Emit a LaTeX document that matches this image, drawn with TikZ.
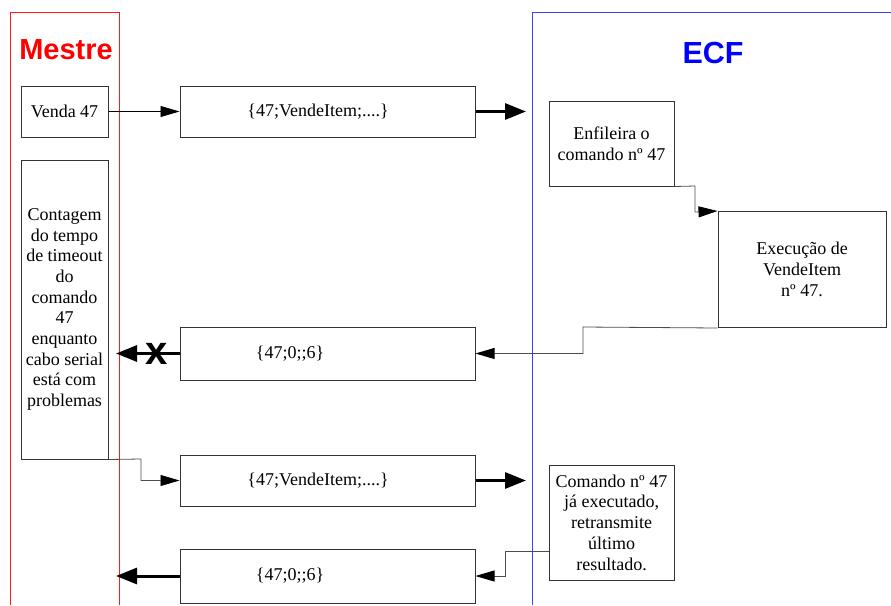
\documentclass[tikz,border=0pt]{standalone}
\usepackage{fontspec}
\setmainfont{Liberation Serif}
\newfontfamily\headfont{Liberation Sans}
\usetikzlibrary{arrows.meta}
\begin{document}
\begin{tikzpicture}[x=1pt,y=-1pt,
  box/.style={draw=black!80,line width=1pt,rectangle,inner sep=0pt,align=center,
    font=\fontsize{18}{20.7}\selectfont},
  thin/.style={line width=0.8pt,-{Triangle[length=19pt,width=11pt]}},
  gthin/.style={draw=black!70,line width=0.8pt,-{Triangle[length=19pt,width=11pt,color=black]}},
  thick/.style={line width=3pt,-{Triangle[length=21pt,width=16pt]}},
  head/.style={font=\headfont\bfseries\fontsize{29}{30}\selectfont}]
\useasboundingbox (0,0) rectangle (891,605);
% lanes
\draw[red!90,line width=0.8pt] (10,605) -- (10,12) -- (119,12) -- (119,605);
\draw[blue!75,line width=0.8pt] (532,605) -- (532,12) -- (891,12);
\node[head,text=red] (mestre) at (66,50) {Mestre};
\node[head,text=blue,font=\headfont\bfseries\fontsize{30.5}{31}\selectfont] (ecf) at (713,53) {ECF};
% boxes
\node[box,minimum width=87pt,minimum height=51pt] (venda) at (64.5,111.5) {Venda 47};
\node[box,minimum width=295pt,minimum height=51pt] (msg1) at (327.5,111.5) {};
\node[font=\fontsize{18}{20.7}\selectfont] (msg1t) at (318,111.5) {\{47;VendeItem;....\}};
\node[box,minimum width=125pt,minimum height=85pt] (enf) at (611.5,143.5) {Enfileira o\\comando nº 47};
\node[box,minimum width=168pt,minimum height=116pt] (exec) at (802,269.5) {Execução de\\VendeItem\\nº 47.};
\node[box,minimum width=87pt,minimum height=299pt] (cont) at (64.5,309.5)
  {Contagem\\do tempo\\de timeout\\do\\comando\\47\\enquanto\\cabo serial\\está com\\problemas};
\node[box,minimum width=295pt,minimum height=53pt] (resp1) at (327.5,353.5) {};
\node[font=\fontsize{18}{20.7}\selectfont] (resp1t) at (290,353.5) {\{47;0;;6\}};
\node[box,minimum width=295pt,minimum height=51pt] (msg2) at (327.5,480.5) {};
\node[font=\fontsize{18}{20.7}\selectfont] (msg2t) at (318,480.5) {\{47;VendeItem;....\}};
\node[box,minimum width=125pt,minimum height=115pt] (cmd) at (611.5,522.5)
  {Comando nº 47\\já executado,\\retransmite\\último\\resultado.};
\node[box,minimum width=295pt,minimum height=54pt] (resp2) at (327.5,576) {};
\node[font=\fontsize{18}{20.7}\selectfont] (resp2t) at (290,576) {\{47;0;;6\}};
% free ends
\coordinate (e1) at (526,111.5);
\coordinate (e2) at (116,353.5);
\coordinate (e3) at (526,480.5);
\coordinate (e4) at (116,576);
% connectors
\draw[thin] (venda.east) -- (msg1.west);
\draw[thick] (msg1.east) -- (e1);
\draw[gthin] (enf.south east) -- (695,186) -- (695,212) -- (exec.north west);
\draw[gthin] (exec.south west) -- (583,327) -- (583,353.5) -- (resp1.east);
\draw[thick] (resp1.west) -- (e2);
\node[font=\headfont\bfseries\fontsize{40}{40}\selectfont,inner sep=0pt] (xmark) at (157,353.5) {x};
\draw[gthin] (cont.south east) -- (141,459) -- (141,480.5) -- (msg2.west);
\draw[thick] (msg2.east) -- (e3);
\draw[gthin] (cmd.west |- 0,551) -- (505,551) -- (505,576) -- (resp2.east);
\draw[thick] (resp2.west) -- (e4);
\end{tikzpicture}
\end{document}
